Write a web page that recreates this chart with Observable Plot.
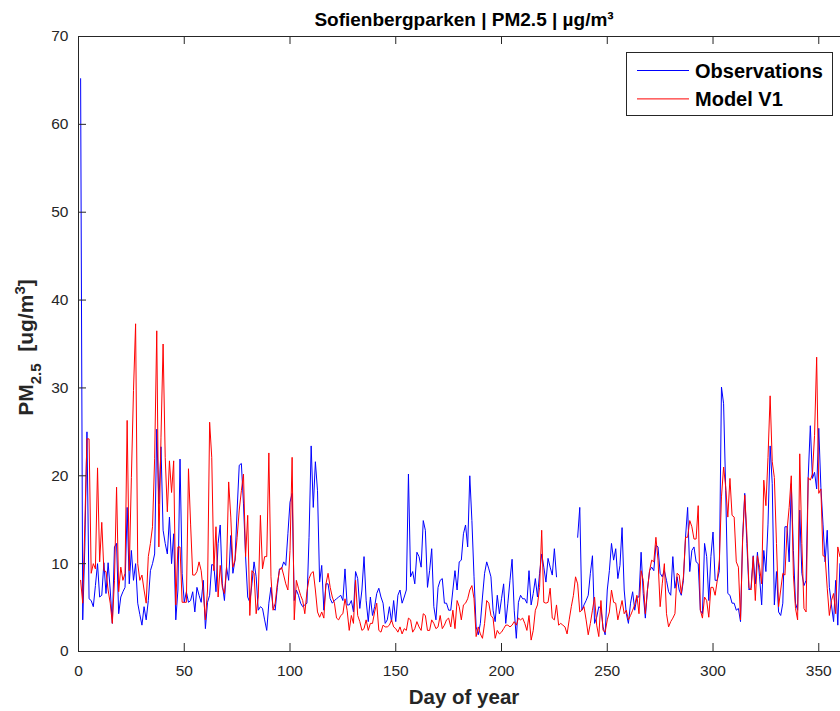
<!DOCTYPE html>
<html>
<head>
<meta charset="utf-8">
<script src="https://cdn.jsdelivr.net/npm/d3@7"></script>
<script src="https://cdn.jsdelivr.net/npm/@observablehq/plot@0.6"></script>
<style>
  html, body { margin: 0; padding: 0; background: #fff; overflow: hidden; }
  #wrap { position: relative; width: 850px; height: 711px; }
  #title { position: absolute; left: 78px; width: 772px; top: 0; height: 30px;
           text-align: center; font: bold 19px "Liberation Sans", Arial, sans-serif;
           color: #000; line-height: 19px; padding-top: 10px; box-sizing: border-box; white-space: nowrap; }
  #chart { position: absolute; left: 0; top: 30px; }
  #legend { position: absolute; left: 626px; top: 52px; }
</style>
</head>
<body>
<div id="wrap">
  <div id="title">Sofienbergparken | PM2.5 | µg/m³</div>
  <div id="chart"></div>
  <svg id="legend" width="208" height="66"></svg>
</div>
<script>
// ---- data (day of year 1..360) ----
const firstDay = 1;
const xTicks = [0, 50, 100, 150, 200, 250, 300, 350];
const yTicks = [0, 10, 20, 30, 40, 50, 60, 70];
const seriesNames = ["Observations", "Model V1"];

const observations = [
  65.2, 3.6, 12, 25, 6.0, 5.8, 5.1, 7.5, 10, 6.2,
  6.4, 10.1, 6.6, 10.1, 7, 3.2, 11.9, 12.3, 4.3, 6.2,
  6.8, 7.3, 16.4, 7.7, 11.5, 8.1, 10, 5.5, 4.2, 3.0,
  5.1, 3.6, 5.8, 9.2, 10, 11.1, 25.3, 16.8, 23.3, 13.8,
  12.3, 11.1, 15.3, 10, 13.4, 3.6, 7, 21.9, 8.9, 5.6,
  6.8, 5.6, 5.8, 6.8, 4.5, 7.3, 6.4, 5.6, 8.1, 2.6,
  5.6, 6.4, 9.9, 9.8, 6.8, 12.3, 14.4, 7.7, 5.8, 9.6,
  8.1, 13.2, 8.9, 10.4, 16.1, 21.2, 21.4, 16.8, 10.8, 6.2,
  5.6, 7.7, 10.2, 8.5, 4.7, 5.1, 4.9, 3.6, 2.4, 5.5,
  7.3, 4.9, 4.7, 7.3, 9.4, 9.4, 10.2, 9.8, 13.4, 17,
  18, 5.8, 7, 6.4, 5.5, 5.1, 5.3, 5.5, 13, 23.4,
  16.4, 21.6, 18.3, 7.9, 9.8, 4.7, 7.7, 7.7, 6, 5.5,
  5.8, 6, 6.2, 6.4, 5.8, 9.4, 5.3, 5.3, 5.8, 4.5,
  9.1, 8.3, 4.9, 7, 10.8, 5.8, 3.4, 6.2, 4.1, 5.1,
  6.6, 7.2, 6.2, 5.5, 3.2, 3.6, 5.1, 3.4, 5.8, 3.4,
  6.4, 7, 5.5, 6.2, 7, 20.2, 8.5, 9.1, 7.7, 11.3,
  10.8, 9.6, 14.9, 13.8, 7.3, 9.2, 11.7, 5.1, 3.6, 7.3,
  8.1, 8.3, 5.5, 5.5, 4.7, 4.7, 7, 9.2, 7, 10.2,
  10.4, 13.4, 14.4, 11.9, 20, 14.9, 8.5, 2.8, 1.9, 3.2,
  6.2, 8.9, 10.2, 9.4, 8.5, 4.7, 3.4, 6.4, 4.3, 6,
  7.7, 3.2, 5.5, 8.1, 10.5, 4.7, 1.5, 5.6, 6.4, 6,
  6, 5.5, 9.2, 5.3, 6.6, 8.3, 6.2, 8.9, 11.1, 9.6,
  7.9, 10.6, 9.6, 8.7, 11.7, 8.5, null, null, null, null,
  null, null, null, null, null, 13, 16.4, 4.7, 5.3, 5.8,
  6.4, 8.9, 10.9, 3.2, 3.9, 5.1, 4.9, 2.8, 1.9, 7,
  9.2, 12.3, 10.4, 11.7, 8.3, 9.8, 14.1, 7, 4.3, 3.2,
  5.5, 6.8, 4.7, 6.2, 6.2, 11.3, 6.6, 3.8, 7, 9.2,
  9.6, 9.2, 12.1, 11.9, 8.9, 8.5, 9.2, 8.1, 6.8, 6.4,
  10.8, 7.2, 8.5, 7, 6.4, 8.1, 13, 16.4, 9.1, 11.5,
  11.9, 10.2, 10, 4.7, 4.3, 12.3, 10.8, 5.8, 10.8, 13.6,
  8.1, 8.1, 9.2, 30.1, 28.2, 18.3, 6.6, 6.4, 5.5, 5.5,
  4.7, 4.9, 3.4, 13, 18, 12.3, 7, 7.3, 10.9, 7.7,
  11.3, 8.5, 5.3, 11.5, 9.1, 14.5, 23.4, 19.1, 5.3, 9.1,
  4.5, 4.1, 5.5, 14.2, 14.2, 10.2, 19.1, 11.5, 5.5, 4.7,
  16.1, 8.9, 7.5, 8.1, 19.8, 25.7, 19.7, 20.4, 18.5, 25.4,
  18.7, 14.5, 10.2, 13.8, 7.3, 5.3, 3.4, 8.1, 3, 10
];

const modelV1 = [
  8.1, 5.5, 14.5, 24.2, 24.2, 8.9, 10, 9.4, 20.9, 10.2,
  14.7, 9.2, 9.1, 7, 5.5, 3.2, 8.1, 18.7, 6.8, 9.6,
  8.1, 8.9, 26.3, 9.2, 19.8, 29.7, 37.3, 10, 8.1, 8.7,
  7, 5.5, 10.8, 12.3, 14.2, 22, 36.5, 11.9, 24.4, 35,
  22.1, 15.9, 21.7, 18.1, 21.7, 5.3, 11.9, 11.9, 5.6, 5.6,
  5.6, 20.8, 14.5, 8.7, 8.7, 9.1, 10.2, 9.2, 6.8, 3.6,
  7, 26.1, 22.1, 9.2, 14.2, 6.2, 9.8, 7.3, 6.6, 9.6,
  19.3, 15.3, 9.6, 10.4, 13, 16.1, 18.3, 20.2, 10.8, 15.5,
  4.1, 9.2, 8.9, 4.3, 6.2, 15.5, 9.4, 10.8, 10.8, 22.6,
  8.5, 4.7, 5.5, 7.7, 9.2, 9.6, 8.7, 7.7, 7, 11.5,
  22.1, 3.6, 8.1, 7.2, 6.4, 5.8, 4.3, 6.8, 8.3, 8.9,
  9.1, 7, 4.5, 3.9, 4.5, 3.8, 7.7, 8.9, 7.3, 6.2,
  5.5, 3.8, 3.6, 4.1, 4.3, 6, 4.7, 2.4, 4.1, 3.2,
  8.1, 4.1, 3.4, 2.4, 2.6, 3.6, 2.4, 3.2, 3.2, 4.5,
  5.5, 2.4, 2.2, 3, 2.8, 2.8, 3, 3.6, 2.8, 2.6,
  2.2, 2.8, 2, 2.6, 2.4, 3.8, 3.6, 2.2, 2.6, 3.4,
  2.8, 2.4, 4.3, 4.1, 2.4, 2.4, 3.6, 3.2, 2.6, 2.8,
  4.1, 2.6, 3, 3.6, 3.8, 2.8, 4.7, 2.6, 5.8, 5.1,
  3.6, 5.3, 5.5, 6, 7, 7.5, 6, 1.7, 2.8, 2,
  1.5, 3.2, 5.8, 5.5, 4.1, 3.8, 1.5, 2.4, 2, 2.2,
  2.6, 3, 3, 2.8, 3, 3.4, 3, 3.8, 3.6, 3.8,
  3.2, 2.4, 4.1, 1.3, 2.4, 4.7, 5.3, 7.3, 13.8, 5.6,
  5.5, 5.6, 7.2, 3.8, 3.6, 5.3, 3, 3.2, 3, 2.8,
  2, 3.6, 5.1, 6.4, 8.5, 7.7, 4.5, 4.7, 5.1, 3.6,
  1.9, 3.2, 4.7, 6.2, 3, 1.7, 5.8, 2.4, 2.2, 3.6,
  4.5, 7, 5.6, 5.5, 3.6, 4.7, 5.8, 4.3, 4.7, 3.6,
  4.1, 4.7, 5.3, 6.4, 4.3, 9.2, 8.1, 4.3, 7, 9.2,
  10.4, 10.2, 13, 10.4, 5.1, 7.7, 10, 4.3, 2.8, 3.4,
  3.8, 4.3, 8.9, 8.7, 6.6, 8.5, 13, 13, 14.9, 14.2,
  12.8, 12.8, 16.6, 4.7, 3.8, 6.2, 5.8, 3.9, 7.3, 7.3,
  6.4, 8.1, 10.4, 17.6, 21, 18.7, 15.3, 19.7, 15.5, 15.3,
  10.2, 9.6, 3.6, 12.7, 17.8, 13.4, 7.3, 7, 10.8, 5.8,
  10.9, 9.6, 7.7, 19.5, 16.6, 22.1, 29.1, 21.6, 19.8, 12.3,
  5.1, 7, 8.9, 8.7, 13.8, 16.4, 20, 8.7, 4.9, 3.6,
  22.5, 12.3, 4.9, 4.5, 19.8, 19.5, 20.2, 24.6, 33.5, 18,
  18.5, 10.9, 10.8, 7.2, 4.1, 5.8, 6.6, 4.3, 11.9, 10.8
];

// ---- layout ----
const FONT = '"Liberation Sans", Arial, Helvetica, sans-serif';
const AX = "#262626";
const W = 850, H = 681, mL = 78, mR = 0, mT = 6, mB = 60;
const plotW = W - mL - mR, plotH = H - mT - mB;
const colors = {"Observations": "#0000ff", "Model V1": "#ff0000"};

const obsRows = observations.map((v, i) => ({day: firstDay + i, value: v}));
const modRows = modelV1.map((v, i) => ({day: firstDay + i, value: v}));

const chart = Plot.plot({
  width: W, height: H,
  marginLeft: mL, marginRight: mR, marginTop: mT, marginBottom: mB,
  x: {domain: [0, 365]},
  y: {domain: [0, 70]},
  style: {fontFamily: FONT, background: "white", overflow: "visible"},
  marks: [
    Plot.lineY(obsRows, {x: "day", y: "value", stroke: colors["Observations"], strokeWidth: 1}),
    Plot.lineY(modRows, {x: "day", y: "value", stroke: colors["Model V1"], strokeWidth: 1}),
    Plot.ruleX(xTicks, {x: d => d, insetTop: plotH - 8, stroke: AX}),
    Plot.ruleX(xTicks, {x: d => d, insetBottom: plotH - 8, stroke: AX}),
    Plot.ruleY(yTicks, {y: d => d, insetRight: plotW - 8, stroke: AX}),
    Plot.frame({stroke: AX}),
    Plot.axisX({ticks: xTicks, tickSize: 0, tickPadding: 13, fontSize: 15.5, color: AX, label: null}),
    Plot.axisY({ticks: yTicks, tickSize: 0, tickPadding: 10, fontSize: 15.5, color: AX, label: null})
  ]
});
document.getElementById("chart").appendChild(chart);

// axis labels
const svg = d3.select(chart);
svg.append("text")
  .attr("x", mL + plotW / 2).attr("y", 674)
  .attr("text-anchor", "middle")
  .attr("font-family", FONT).attr("font-weight", "bold").attr("font-size", 20.5)
  .attr("fill", AX)
  .text("Day of year");

const yl = svg.append("text")
  .attr("transform", `translate(33,${mT + plotH / 2 + 4}) rotate(-90)`)
  .attr("text-anchor", "middle")
  .attr("font-family", FONT).attr("font-weight", "bold").attr("font-size", 21)
  .attr("fill", AX);
yl.append("tspan").text("PM");
yl.append("tspan").attr("font-size", 15).attr("dy", 8).text("2.5");
yl.append("tspan").attr("dy", -8).text("\u00a0\u00a0[ug/m");
yl.append("tspan").attr("font-size", 15).attr("dy", -8).text("3");
yl.append("tspan").attr("dy", 8).text("]");

// legend
const lg = d3.select("#legend");
lg.append("rect").attr("x", 0.5).attr("y", 0.5).attr("width", 206).attr("height", 63)
  .attr("fill", "white").attr("stroke", AX).attr("stroke-width", 1);
seriesNames.forEach((name, i) => {
  const yy = 18.5 + i * 28.4;
  lg.append("line").attr("x1", 11).attr("x2", 63).attr("y1", yy).attr("y2", yy)
    .attr("stroke", colors[name]).attr("stroke-width", 1);
  lg.append("text").attr("x", 69).attr("y", yy + 7.4)
    .attr("font-family", FONT).attr("font-weight", "bold").attr("font-size", 20)
    .attr("fill", "#000").text(name);
});
</script>
</body>
</html>
